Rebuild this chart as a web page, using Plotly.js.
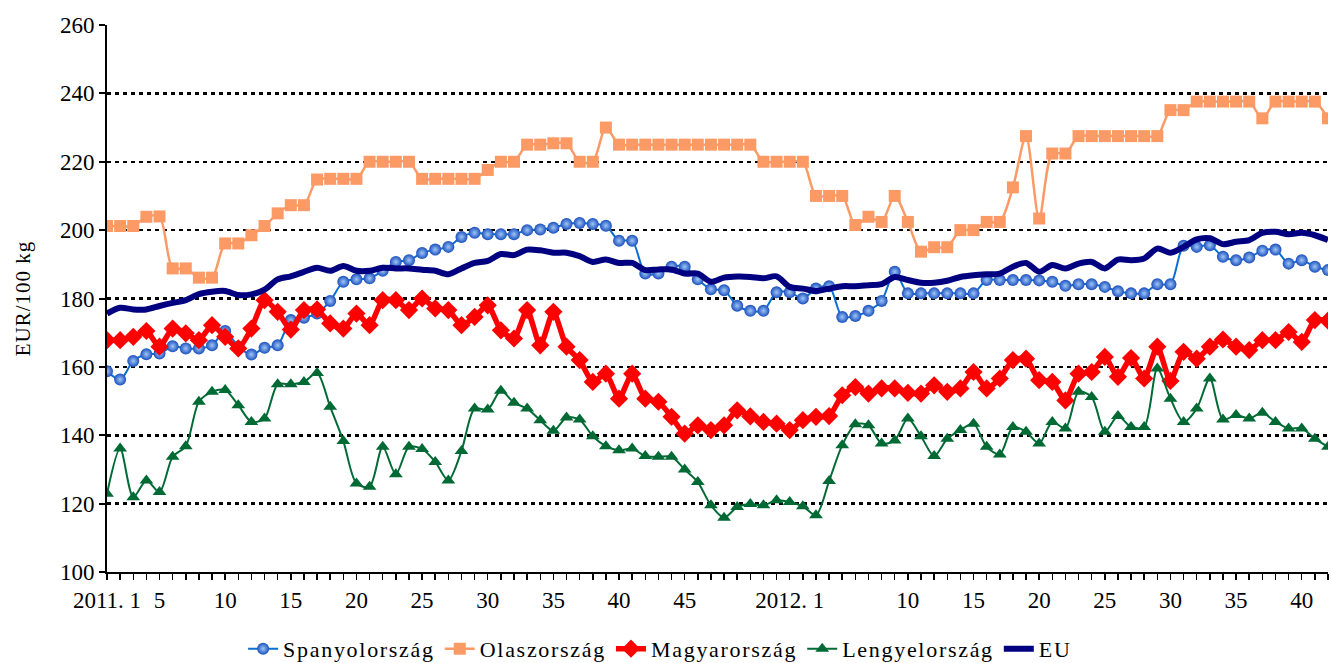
<!DOCTYPE html>
<html>
<head>
<meta charset="utf-8">
<script src="https://cdn.plot.ly/plotly-3.0.1.min.js"></script>
<style>html,body{margin:0;padding:0;background:#fff;}#chart{width:1331px;height:663px;}
.legendtext{letter-spacing:1.7px;}
.ytitle{letter-spacing:1px;}
</style>
</head>
<body>
<div id="chart"></div>
<script>
// Week index 0..93: 2011 week 1 .. 2012 week 42
const weekLabels = [];
for (let w = 1; w <= 52; w++) weekLabels.push('2011. ' + w);
for (let w = 1; w <= 42; w++) weekLabels.push('2012. ' + w);

// Tick labels shown on the category axis (empty = tick mark only)
const tickLabelMap = {0:'2011. 1',4:'5',9:'10',14:'15',19:'20',24:'25',29:'30',34:'35',39:'40',44:'45',
  52:'2012. 1',61:'10',66:'15',71:'20',76:'25',81:'30',86:'35',91:'40'};

const spanyol = [158.7,156.3,161.7,163.7,163.9,166.0,165.4,165.4,166.3,170.5,
  165.9,163.6,165.6,166.3,173.7,174.4,175.6,179.3,184.9,185.6,
  185.9,188.1,190.7,191.2,193.3,194.3,195.1,198.0,199.2,198.8,
  198.8,198.8,200.0,200.2,200.7,201.8,202.1,201.8,201.3,196.9,
  196.9,187.3,187.3,189.3,189.3,185.6,182.7,182.4,177.9,176.4,
  176.4,181.8,181.8,180.0,182.9,183.6,174.6,174.9,176.4,179.3,
  187.8,181.5,181.5,181.5,181.5,181.5,181.5,185.4,185.4,185.4,
  185.4,185.3,184.9,183.7,184.2,184.2,183.4,182.1,181.5,181.5,
  184.2,184.2,195.4,195.1,195.6,192.2,191.2,192.0,194.0,194.3,
  190.2,191.2,189.3,188.3];

const olasz = [201.2,201.2,201.2,203.9,204.0,188.8,188.8,186.1,186.1,196.1,
  196.1,198.5,201.2,204.9,207.3,207.3,214.8,215.0,215.0,215.0,
  220.0,220.0,220.0,220.0,215.0,215.0,215.0,215.0,215.0,217.6,
  220.0,220.0,225.0,225.0,225.4,225.4,220.0,220.0,230.0,225.0,
  225.0,225.0,225.0,225.0,225.0,225.0,225.0,225.0,225.0,225.0,
  220.0,220.0,220.0,220.0,210.0,210.0,210.0,201.5,203.9,202.4,
  210.0,202.4,193.7,195.0,195.0,200.0,200.0,202.4,202.4,212.5,
  227.5,203.4,222.4,222.4,227.5,227.5,227.5,227.5,227.5,227.5,
  227.5,235.1,235.1,237.6,237.6,237.6,237.6,237.6,232.7,237.6,
  237.6,237.6,237.6,232.7];

const magyar = [167.8,167.8,168.8,170.5,165.9,171.2,169.8,167.8,172.2,168.8,
  165.4,171.2,179.5,176.1,170.9,176.6,176.8,172.7,171.2,175.6,
  172.2,179.5,179.5,176.6,180.0,177.1,176.6,172.2,174.6,178.0,
  170.7,168.3,176.6,166.3,176.1,165.9,162.0,155.6,158.0,150.7,
  158.0,150.7,149.8,145.4,140.5,142.9,141.5,142.9,147.3,145.5,
  143.9,143.4,141.5,144.4,145.4,145.6,151.7,154.1,152.2,153.7,
  153.7,152.4,152.2,154.6,152.7,153.7,158.5,153.7,156.6,162.0,
  162.4,156.1,155.6,150.2,158.0,158.5,162.9,157.1,162.6,156.6,
  165.9,155.9,164.4,162.4,165.9,168.0,165.9,164.9,167.8,167.8,
  170.2,167.3,173.7,173.5];

const lengyel = [122.9,136.1,121.9,126.8,123.4,133.7,136.8,149.8,152.7,153.2,
  148.8,143.9,144.9,154.9,154.9,155.6,158.2,148.3,138.3,125.9,
  124.9,136.6,128.6,136.6,136.0,132.2,126.8,135.4,147.8,147.5,
  153.0,149.5,147.8,144.4,141.3,145.2,144.6,139.7,136.8,135.6,
  136.1,133.9,133.7,133.7,130.0,126.3,119.5,115.9,119.0,119.9,
  119.5,121.0,120.5,119.2,116.6,126.6,137.1,143.2,142.9,137.6,
  138.5,144.9,139.7,133.9,139.0,141.5,143.4,136.6,134.4,142.4,
  141.0,137.6,143.9,142.0,152.7,151.2,141.0,145.6,142.4,142.4,
  159.5,150.7,143.9,147.8,156.6,144.6,145.9,144.9,146.6,143.9,
  142.0,142.0,139.0,136.6];

const eu = [175.6,177.3,176.8,176.8,177.8,178.7,179.5,181.3,182.0,182.2,
  181.0,181.2,182.6,185.6,186.5,187.8,189.0,188.1,189.5,188.1,
  188.1,189.0,188.8,188.8,188.4,188.1,187.1,188.8,190.4,191.0,
  193.0,192.7,194.3,194.1,193.4,193.4,192.4,190.7,191.4,190.4,
  190.4,188.3,188.5,188.5,187.3,187.3,184.9,186.1,186.4,186.3,
  185.9,186.5,183.4,182.9,182.2,182.9,183.6,183.6,183.9,184.2,
  186.3,185.4,184.6,184.6,185.2,186.3,186.8,187.1,187.3,189.3,
  190.4,187.8,189.8,188.8,190.2,190.7,188.8,191.4,191.2,191.7,
  194.6,193.4,195.1,197.3,197.6,195.9,196.6,197.1,199.2,199.5,
  198.8,199.2,198.5,197.1];

const idx = weekLabels.map((_, i) => i);
const tickText = idx.map(i => tickLabelMap[i] !== undefined ? tickLabelMap[i] : '');

const FONT = 'Liberation Serif, Times New Roman, serif';

const traces = [
  {name:'Spanyolország', x:idx, y:spanyol, text:weekLabels, mode:'lines+markers', type:'scatter',
   line:{color:'#0a6fd0', width:2, shape:'spline', smoothing:0.8},
   marker:{symbol:'circle', size:12, color:'#1a4fbf', gradient:{type:'radial', color:'#9fc6f5'}, line:{width:0}}},
  {name:'Olaszország', x:idx, y:olasz, text:weekLabels, mode:'lines+markers', type:'scatter',
   line:{color:'#fc9a66', width:2.5, shape:'spline', smoothing:0.8},
   marker:{symbol:'square', size:12, color:'#fc9a66', line:{width:0}}},
  {name:'Magyarország', x:idx, y:magyar, text:weekLabels, mode:'lines+markers', type:'scatter',
   line:{color:'#ff0000', width:5.5, shape:'spline', smoothing:0.6},
   marker:{symbol:'diamond', size:14, color:'#ff0000', line:{width:0}}},
  {name:'Lengyelország', x:idx, y:lengyel, text:weekLabels, mode:'lines+markers', type:'scatter',
   line:{color:'#006a35', width:2, shape:'spline', smoothing:0.8},
   marker:{symbol:'triangle-up', size:12, color:'#006a35', line:{width:0}}},
  {name:'EU', x:idx, y:eu, text:weekLabels, mode:'lines', type:'scatter',
   line:{color:'#000080', width:6, shape:'spline', smoothing:0.8}}
];

const layout = {
  width:1331, height:663,
  margin:{l:107, r:3, t:25, b:91},
  paper_bgcolor:'#fff', plot_bgcolor:'#fff',
  font:{family:FONT, size:22, color:'#000'},
  showlegend:true,
  legend:{orientation:'h', x:0.453, xanchor:'center', yref:'container', y:0.053, yanchor:'top',
    font:{family:FONT, size:22, color:'#000'}, itemwidth:30, tracegroupgap:0},
  xaxis:{range:[0,93], tickvals:idx, ticktext:tickText, tickangle:0,
    showgrid:false, zeroline:false, showline:true, linecolor:'#000', linewidth:2,
    ticks:'outside', ticklen:6, tickwidth:1.5, tickcolor:'#000',
    tickfont:{family:FONT, size:23, color:'#000'}, fixedrange:true},
  yaxis:{range:[100,260], tickvals:[100,120,140,160,180,200,220,240,260],
    showgrid:true, gridcolor:'#000', gridwidth:2.5, griddash:'4px,4px',
    zeroline:false, showline:true, linecolor:'#000', linewidth:2,
    ticks:'outside', ticklen:6, tickwidth:2, tickcolor:'#000',
    tickfont:{family:FONT, size:23, color:'#000'},
    title:{text:'EUR/100 kg', font:{family:FONT, size:21, color:'#000'}, standoff:24},
    automargin:false, fixedrange:true}
};

Plotly.newPlot('chart', traces, layout, {displayModeBar:false, staticPlot:true});
</script>
</body>
</html>
